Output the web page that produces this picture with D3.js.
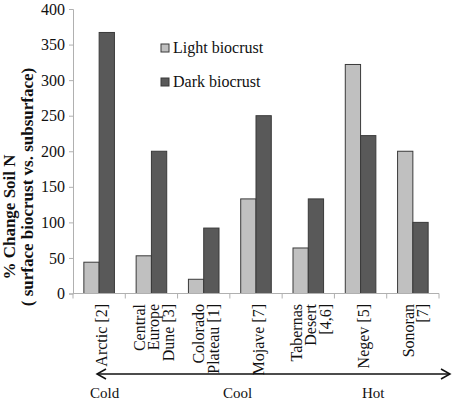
<!DOCTYPE html>
<html><head><meta charset="utf-8">
<script src="https://cdn.jsdelivr.net/npm/d3@7"></script>
<style>body{margin:0;background:#fff}svg{display:block}text{font-family:"Liberation Serif","DejaVu Serif",serif;fill:#111}</style>
</head><body><svg id="c" width="458" height="402"></svg>
<script>
const categories = ["Arctic [2]","Central Europe Dune [3]","Colorado Plateau [1]","Mojave [7]","Tabernas Desert [4,6]","Negev [5]","Sonoran [7]"];
const categoryLines = [["Arctic [2]"],["Central","Europe","Dune [3]"],["Colorado","Plateau [1]"],["Mojave [7]"],["Tabernas","Desert","[4,6]"],["Negev [5]"],["Sonoran","[7]"]];
const seriesNames = ["Light biocrust","Dark biocrust"];
const lightValues = [44, 53, 20, 133, 64, 322, 200];
const darkValues = [367, 200, 92, 250, 133, 222, 100];
const yTicks = [0,50,100,150,200,250,300,350,400];
const climateLabels = ["Cold","Cool","Hot"];
const colors = ["#c0c0c0","#595959"];

const svg = d3.select("#c");
const mLeft = 73, mRight = 439, mTop = 9, mBottom = 293.5;
const x = d3.scaleBand().domain(categories).range([mLeft,mRight]).paddingInner(0).paddingOuter(0);
const xs = d3.scaleBand().domain(seriesNames).range([0,x.bandwidth()]).paddingInner(0).paddingOuter(0.71);
const y = d3.scaleLinear().domain([0,400]).range([mBottom,mTop]);

// y axis
const ya = svg.append("g").attr("transform",`translate(${mLeft},0)`)
  .call(d3.axisLeft(y).tickValues(yTicks).tickSize(4).tickPadding(4))
  .attr("font-family","'Liberation Serif',serif").attr("font-size",16);
ya.select(".domain").attr("stroke","#b0b0b0");
ya.selectAll(".tick line").attr("stroke","#b0b0b0");
ya.selectAll(".tick text").attr("fill","#111");

// bars
const data = categories.map((c,i)=>({c, vals:[lightValues[i], darkValues[i]]}));
const g = svg.append("g");
data.forEach(d=>{
  d.vals.forEach((v,j)=>{
    g.append("rect")
      .attr("x", x(d.c)+xs(seriesNames[j]))
      .attr("y", y(v))
      .attr("width", xs.bandwidth())
      .attr("height", y(0)-y(v))
      .attr("fill", colors[j])
      .attr("stroke", "#3a3a3a").attr("stroke-width",1);
  });
});

// x axis
const xa = svg.append("g").attr("transform",`translate(0,${mBottom})`);
xa.append("line").attr("x1",mLeft).attr("x2",mRight).attr("stroke","#b0b0b0");
const boundaries = d3.range(categories.length+1).map(i=> i<categories.length ? x(categories[i]) : mRight);
xa.selectAll("line.tk").data(boundaries).join("line").attr("class","tk")
  .attr("x1",d=>d).attr("x2",d=>d).attr("y1",0).attr("y2",5).attr("stroke","#b0b0b0");

// category labels
categories.forEach((c,i)=>{
  const lines = categoryLines[i];
  const cx = x(c)+x.bandwidth()/2 + 3;
  const lh = 14.5;
  lines.forEach((ln,k)=>{
    const off = (k-(lines.length-1)/2)*lh;
    svg.append("text")
      .attr("transform",`translate(${cx+off+5},${304}) rotate(-90)`)
      .attr("text-anchor","end")
      .style("font-size","16px")
      .text(ln);
  });
});

// y title
svg.append("text").attr("transform","translate(15,217) rotate(-90)")
  .attr("text-anchor","middle").style("font-size","17px").style("font-weight","bold").text("% Change Soil N");
svg.append("text").attr("transform","translate(33,187) rotate(-90)")
  .attr("text-anchor","middle").style("font-size","17px").style("font-weight","bold").text("( surface biocrust vs. subsurface)");

// legend
const lg = svg.append("g");
seriesNames.forEach((s,j)=>{
  const yy = 44 + j*34;
  lg.append("rect").attr("x",161).attr("y",yy).attr("width",8).attr("height",8)
    .attr("fill",colors[j]).attr("stroke","#3a3a3a").attr("stroke-width",1);
  lg.append("text").attr("x",173).attr("y",yy+9).style("font-size","16px").text(s);
});

// climate arrow
const ax1 = 97, ax2 = 450, ay = 374;
svg.append("line").attr("x1",ax1).attr("x2",ax2).attr("y1",ay).attr("y2",ay).attr("stroke","#111").attr("stroke-width",1.5);
svg.append("path").attr("d",`M${ax1+9},${ay-5} L${ax1},${ay} L${ax1+9},${ay+5}`).attr("fill","none").attr("stroke","#111").attr("stroke-width",1.5);
svg.append("path").attr("d",`M${ax2-9},${ay-5} L${ax2},${ay} L${ax2-9},${ay+5}`).attr("fill","none").attr("stroke","#111").attr("stroke-width",1.5);
const clx = [90, 223, 362];
climateLabels.forEach((t,i)=>{
  svg.append("text").attr("x",clx[i]).attr("y",398).style("font-size","15px").text(t);
});
</script></body></html>
